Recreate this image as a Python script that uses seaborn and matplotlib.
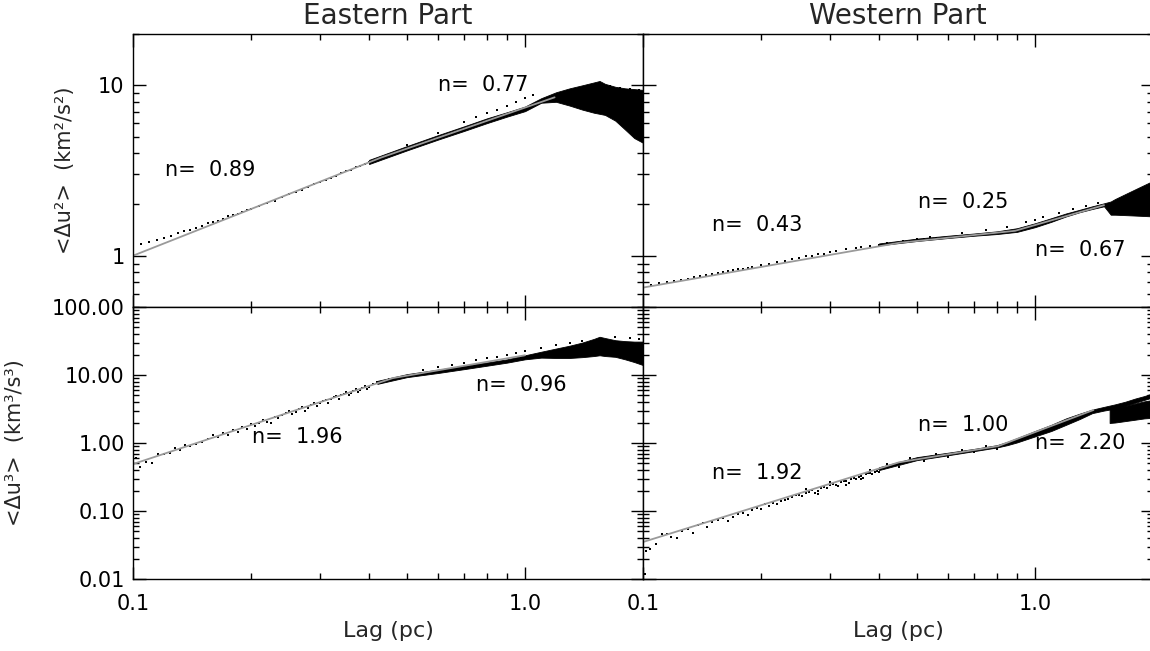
import numpy as np
import pandas as pd
import matplotlib
matplotlib.use("Agg")
import matplotlib.pyplot as plt
import seaborn as sns
from matplotlib.ticker import LogLocator, NullFormatter, FixedLocator, FixedFormatter

# ---------------- data ----------------
# Eastern part, second order <du^2>
E2_DOT_LAG = [0.100, 0.105, 0.110, 0.115, 0.120, 0.125, 0.130, 0.140, 0.150, 0.160,
              0.170, 0.180, 0.190, 0.200, 0.220, 0.240, 0.260, 0.280, 0.300, 0.330,
              0.360, 0.400,
              0.135, 0.145, 0.155, 0.165, 0.175, 0.185, 0.195, 0.210, 0.230, 0.250,
              0.270, 0.290, 0.310, 0.320, 0.340, 0.350, 0.370, 0.380, 0.390]
E2_DOT_VAL = [1.15, 1.17, 1.20, 1.24, 1.27, 1.30, 1.36, 1.42, 1.50, 1.57,
              1.65, 1.73, 1.80, 1.88, 2.04, 2.20, 2.38, 2.52, 2.70, 2.95,
              3.20, 3.55,
              1.40, 1.45, 1.55, 1.60, 1.70, 1.76, 1.85, 1.97, 2.10, 2.30,
              2.43, 2.62, 2.78, 2.86, 3.05, 3.12, 3.30, 3.38, 3.47]
E2_SCAT_LAG = [0.50, 0.60, 0.70, 0.75, 0.80, 0.85, 0.90, 0.95, 1.00, 1.05, 1.65, 1.75, 1.85, 1.95]
E2_SCAT_VAL = [4.45, 5.25, 6.10, 6.50, 6.90, 7.20, 7.60, 8.00, 8.40, 8.80, 9.90, 9.60, 9.50, 9.40]
E2_BAND_LAG = [0.40, 0.50, 0.60, 0.70, 0.80, 0.90, 1.00, 1.10, 1.20, 1.30, 1.40, 1.50, 1.55, 1.60, 1.70, 1.80, 1.90, 2.00]
E2_BAND_LO = [3.45, 4.15, 4.80, 5.40, 6.00, 6.55, 7.05, 7.90, 8.00, 7.60, 7.20, 6.90, 6.80, 6.70, 6.20, 5.50, 4.90, 4.60]
E2_BAND_HI = [3.65, 4.40, 5.10, 5.75, 6.40, 6.95, 7.50, 8.40, 9.10, 9.60, 10.0, 10.4, 10.6, 10.2, 9.80, 9.60, 9.50, 9.40]
E2_FIT_LAG = [0.10, 0.43, 1.19]
E2_FIT_VAL = [1.00, 3.77, 8.50]
E2_N = ["0.89", "0.77"]

# Western part, second order <du^2>
W2_DOT_LAG = [0.10, 0.11, 0.12, 0.13, 0.14, 0.15, 0.16, 0.17, 0.18, 0.19, 0.20, 0.22,
              0.24, 0.26, 0.28, 0.30, 0.33, 0.36, 0.40, 0.44, 0.48, 0.52, 0.56,
              0.105, 0.115, 0.125, 0.135, 0.145, 0.155, 0.165, 0.175, 0.185, 0.21,
              0.23, 0.25, 0.27, 0.29, 0.31, 0.35, 0.38, 0.42, 0.46, 0.50, 0.54]
W2_DOT_VAL = [0.66, 0.69, 0.71, 0.73, 0.76, 0.78, 0.80, 0.82, 0.84, 0.86, 0.88, 0.92,
              0.95, 0.99, 1.02, 1.05, 1.09, 1.12, 1.16, 1.19, 1.22, 1.25, 1.27,
              0.67, 0.70, 0.72, 0.75, 0.77, 0.79, 0.81, 0.83, 0.85, 0.90,
              0.93, 0.97, 1.00, 1.03, 1.06, 1.11, 1.14, 1.18, 1.22, 1.25, 1.28]
W2_SCAT_LAG = [0.65, 0.75, 0.85, 0.95, 1.00, 1.05, 1.15, 1.25, 1.35, 1.45]
W2_SCAT_VAL = [1.36, 1.41, 1.48, 1.58, 1.62, 1.68, 1.79, 1.89, 1.97, 2.05]
W2_BAND_LAG = [0.40, 0.50, 0.60, 0.70, 0.80, 0.90, 1.00, 1.10, 1.20, 1.30, 1.40, 1.50, 1.56, 1.60, 1.70, 1.80, 1.90, 2.00]
W2_BAND_LO = [1.15, 1.22, 1.27, 1.31, 1.34, 1.38, 1.47, 1.58, 1.70, 1.80, 1.88, 1.95, 1.74, 1.74, 1.73, 1.72, 1.71, 1.70]
W2_BAND_HI = [1.18, 1.26, 1.31, 1.35, 1.39, 1.45, 1.55, 1.66, 1.77, 1.86, 1.95, 2.03, 2.08, 2.15, 2.30, 2.45, 2.60, 2.75]
W2_FIT_LAG = [0.10, 0.45, 0.89, 1.50]
W2_FIT_VAL = [0.65, 1.19, 1.40, 1.98]
W2_N = ["0.43", "0.25", "0.67"]

# Eastern part, third order <du^3>
E3_DOT_LAG = [0.100, 0.102, 0.104, 0.108, 0.112, 0.116, 0.120, 0.124, 0.128, 0.132,
              0.136, 0.140, 0.145, 0.150, 0.155, 0.160, 0.165, 0.170, 0.175, 0.180,
              0.185, 0.190, 0.195, 0.200, 0.205, 0.210, 0.215, 0.220, 0.225, 0.230,
              0.240, 0.250, 0.260, 0.270, 0.280, 0.290, 0.300, 0.310, 0.320, 0.330,
              0.340, 0.350, 0.360, 0.370, 0.380, 0.390, 0.400, 0.420,
              0.235, 0.245, 0.255, 0.265, 0.275, 0.285, 0.295, 0.305, 0.315, 0.325,
              0.335, 0.345, 0.355, 0.365, 0.375, 0.385, 0.395, 0.410, 0.430, 0.450]
E3_DOT_VAL = [0.58, 0.60, 0.45, 0.52, 0.50, 0.70, 0.68, 0.72, 0.85, 0.80,
              0.95, 0.90, 0.98, 1.05, 1.15, 1.30, 1.22, 1.40, 1.32, 1.55,
              1.45, 1.70, 1.62, 1.90, 1.80, 1.98, 2.15, 2.05, 1.95, 2.45,
              2.60, 2.95, 2.90, 3.40, 3.30, 3.85, 3.90, 4.30, 4.45, 4.95,
              5.00, 5.60, 5.50, 6.20, 6.05, 6.80, 6.70, 7.90,
              2.30, 2.80, 2.70, 3.20, 3.00, 3.60, 3.50, 4.10, 3.90, 4.70,
              4.40, 5.30, 5.10, 5.90, 5.60, 6.50, 6.30, 7.40, 7.60, 8.60]
E3_SCAT_LAG = [0.55, 0.60, 0.65, 0.70, 0.75, 0.80, 0.85, 0.90, 0.95, 1.00, 1.10, 1.20, 1.30, 1.40, 1.70, 1.85, 1.95]
E3_SCAT_VAL = [12.0, 13.0, 14.2, 15.2, 16.5, 17.5, 18.5, 19.8, 21.0, 22.5, 25.0, 28.0, 30.0, 32.0, 36.0, 35.0, 34.0]
E3_BAND_LAG = [0.42, 0.50, 0.60, 0.70, 0.80, 0.90, 1.00, 1.10, 1.20, 1.30, 1.40, 1.50, 1.55, 1.60, 1.70, 1.80, 1.90, 2.00]
E3_BAND_LO = [7.4, 9.3, 10.7, 12.2, 13.7, 15.2, 17.0, 18.0, 17.8, 17.8, 18.3, 19.0, 19.5, 19.0, 18.5, 17.0, 15.5, 14.0]
E3_BAND_HI = [8.2, 10.3, 12.0, 13.6, 15.3, 17.0, 19.5, 22.0, 24.5, 27.0, 30.0, 34.0, 36.5, 35.0, 32.5, 31.5, 31.0, 31.0]
E3_FIT_LAG = [0.10, 0.46, 1.00]
E3_FIT_VAL = [0.49, 9.00, 19.5]
E3_N = ["1.96", "0.96"]

# Western part, third order <du^3>
W3_DOT_LAG = [0.101, 0.102, 0.104, 0.108, 0.112, 0.115, 0.118, 0.122, 0.126, 0.130,
              0.134, 0.138, 0.142, 0.146, 0.150, 0.155, 0.160, 0.165, 0.170, 0.175,
              0.180, 0.185, 0.190, 0.195, 0.200, 0.205, 0.210, 0.215, 0.220, 0.230,
              0.240, 0.250, 0.260, 0.270, 0.280, 0.290, 0.300, 0.310, 0.320, 0.330,
              0.340, 0.350, 0.360, 0.370, 0.380, 0.390, 0.400,
              0.225, 0.235, 0.245, 0.255, 0.265, 0.275, 0.285, 0.295, 0.305, 0.315,
              0.325, 0.335, 0.345, 0.355, 0.365, 0.375, 0.385, 0.395]
W3_DOT_VAL = [0.012, 0.026, 0.028, 0.033, 0.046, 0.046, 0.041, 0.040, 0.050, 0.055,
              0.047, 0.062, 0.066, 0.058, 0.070, 0.073, 0.080, 0.072, 0.082, 0.090,
              0.094, 0.086, 0.102, 0.110, 0.106, 0.125, 0.118, 0.132, 0.128, 0.145,
              0.158, 0.170, 0.182, 0.205, 0.200, 0.225, 0.240, 0.245, 0.270, 0.275,
              0.300, 0.295, 0.330, 0.345, 0.360, 0.380, 0.410,
              0.140, 0.150, 0.170, 0.165, 0.190, 0.185, 0.220, 0.215, 0.250, 0.235,
              0.280, 0.260, 0.310, 0.320, 0.310, 0.360, 0.350, 0.390]
W3_SCAT_LAG = [0.26, 0.28, 0.30, 0.33, 0.36, 0.38, 0.40, 0.42, 0.45, 0.48, 0.52, 0.56, 0.60, 0.65, 0.70, 0.75, 0.80]
W3_SCAT_VAL = [0.21, 0.175, 0.27, 0.24, 0.30, 0.40, 0.37, 0.49, 0.45, 0.61, 0.55, 0.70, 0.63, 0.80, 0.73, 0.90, 0.83]
W3_BAND_LAG = [0.40, 0.50, 0.60, 0.70, 0.80, 0.85, 0.90, 1.00, 1.10, 1.20, 1.30, 1.40, 1.50, 1.60, 1.70, 1.80, 1.90, 2.00]
W3_BAND_LO = [0.40, 0.56, 0.66, 0.76, 0.86, 0.93, 1.02, 1.25, 1.50, 1.85, 2.25, 2.75, 3.00, 3.20, 3.50, 3.90, 4.30, 4.70]
W3_BAND_HI = [0.44, 0.62, 0.72, 0.82, 0.93, 1.04, 1.18, 1.50, 1.85, 2.30, 2.70, 3.10, 3.40, 3.70, 4.05, 4.50, 4.90, 5.40]
W3_FAN_LAG = [1.55, 1.60, 1.70, 1.80, 1.90, 2.00]
W3_FAN_LO = [1.97, 2.00, 2.10, 2.20, 2.30, 2.35]
W3_FAN_HI = [3.20, 3.30, 3.50, 3.80, 4.10, 4.30]
W3_FIT_LAG = [0.10, 0.45, 0.805, 1.41]
W3_FIT_VAL = [0.035, 0.52, 0.90, 3.06]
W3_N = ["1.92", "1.00", "2.20"]

TITLES = ["Eastern Part", "Western Part"]
X_TICKS = [0.1, 1.0]
X_TICKLABELS = ["0.1", "1.0"]
Y2_TICKS = [1, 10]
Y2_TICKLABELS = ["1", "10"]
Y3_TICKS = [0.01, 0.1, 1, 10, 100]
Y3_TICKLABELS = ["0.01", "0.10", "1.00", "10.00", "100.00"]

# ---------------- figure ----------------
sns.set_theme(style="white")
plt.rcParams["font.family"] = ["DejaVu Sans"]
plt.rcParams["axes.linewidth"] = 1.0

W, H = 1150, 651
fig = plt.figure(figsize=(W / 100, H / 100), dpi=100)

def frac(x0, y0, x1, y1):
    return [x0 / W, 1 - y1 / H, (x1 - x0) / W, (y1 - y0) / H]

ax_tl = fig.add_axes(frac(133, 34, 643, 307))
ax_tr = fig.add_axes(frac(643, 34, 1153, 307))
ax_bl = fig.add_axes(frac(133, 307, 643, 579))
ax_br = fig.add_axes(frac(643, 307, 1153, 579))

GRAY = "#9a9a9a"

def draw(ax, dl, dv, sl, sv, bl, blo, bhi, fl, fv):
    ax.set_xscale("log")
    ax.set_yscale("log")
    ax.fill_between(bl, blo, bhi, color="black", linewidth=0.6, edgecolor="black")
    d = pd.DataFrame({"lag": dl + sl, "val": dv + sv})
    sns.scatterplot(data=d, x="lag", y="val", ax=ax, s=2.5, color="black",
                    marker="s", linewidth=0, legend=False)
    f = pd.DataFrame({"lag": fl, "val": fv})
    sns.lineplot(data=f, x="lag", y="val", ax=ax, color=GRAY, linewidth=1.3,
                 sort=False, estimator=None)

draw(ax_tl, E2_DOT_LAG, E2_DOT_VAL, E2_SCAT_LAG, E2_SCAT_VAL,
     E2_BAND_LAG, E2_BAND_LO, E2_BAND_HI, E2_FIT_LAG, E2_FIT_VAL)
draw(ax_tr, W2_DOT_LAG, W2_DOT_VAL, W2_SCAT_LAG, W2_SCAT_VAL,
     W2_BAND_LAG, W2_BAND_LO, W2_BAND_HI, W2_FIT_LAG, W2_FIT_VAL)
draw(ax_bl, E3_DOT_LAG, E3_DOT_VAL, E3_SCAT_LAG, E3_SCAT_VAL,
     E3_BAND_LAG, E3_BAND_LO, E3_BAND_HI, E3_FIT_LAG, E3_FIT_VAL)
draw(ax_br, W3_DOT_LAG, W3_DOT_VAL, W3_SCAT_LAG, W3_SCAT_VAL,
     W3_BAND_LAG, W3_BAND_LO, W3_BAND_HI, W3_FIT_LAG, W3_FIT_VAL)
ax_br.fill_between(W3_FAN_LAG, W3_FAN_LO, W3_FAN_HI, color="black", linewidth=0.6, edgecolor="black")

FS = 15
for ax, top, left in [(ax_tl, True, True), (ax_tr, True, False),
                      (ax_bl, False, True), (ax_br, False, False)]:
    ax.set_xlim(0.1, 2.0)
    if top:
        ax.set_ylim(0.5, 20)
        ax.yaxis.set_major_locator(FixedLocator(Y2_TICKS))
        ax.yaxis.set_major_formatter(FixedFormatter(Y2_TICKLABELS))
    else:
        ax.set_ylim(0.01, 100)
        ax.yaxis.set_major_locator(FixedLocator(Y3_TICKS))
        ax.yaxis.set_major_formatter(FixedFormatter(Y3_TICKLABELS))
    ax.yaxis.set_minor_locator(LogLocator(base=10, subs=np.arange(2, 10), numticks=20))
    ax.yaxis.set_minor_formatter(NullFormatter())
    ax.xaxis.set_major_locator(FixedLocator(X_TICKS))
    ax.xaxis.set_major_formatter(FixedFormatter(X_TICKLABELS))
    ax.xaxis.set_minor_locator(FixedLocator([0.2, 0.3, 0.4, 0.5, 0.6, 0.7, 0.8, 0.9]))
    ax.xaxis.set_minor_formatter(NullFormatter())
    ax.tick_params(which="both", direction="in", top=True, right=True,
                   bottom=True, left=True, colors="black", width=1.0)
    ax.tick_params(which="major", length=9)
    ax.tick_params(which="minor", length=4.5)
    ax.tick_params(axis="x", which="major", pad=11, labelsize=FS)
    ax.tick_params(axis="y", which="major", pad=6, labelsize=FS)
    if top:
        ax.tick_params(axis="x", labelbottom=False)
    if not left:
        ax.tick_params(axis="y", labelleft=False)
    for sp in ax.spines.values():
        sp.set_color("black")
        sp.set_linewidth(1.0)
    ax.set_xlabel("")
    ax.set_ylabel("")

ax_tl.set_title(TITLES[0], fontsize=20, pad=7)
ax_tr.set_title(TITLES[1], fontsize=20, pad=7)

ax_bl.set_xlabel("Lag (pc)", fontsize=16, labelpad=5)
ax_br.set_xlabel("Lag (pc)", fontsize=16, labelpad=5)
ax_tl.set_ylabel("<Δu²>  (km²/s²)", fontsize=15)
ax_tl.yaxis.set_label_coords(-0.114, 0.5)
ax_bl.set_ylabel("<Δu³>  (km³/s³)", fontsize=15)
ax_bl.yaxis.set_label_coords(-0.212, 0.5)

def nlab(ax, x, y, s):
    ax.text(x, y, "n=  " + s, fontsize=FS, ha="left", va="center", color="black")

nlab(ax_tl, 0.121, 3.2, E2_N[0])
nlab(ax_tl, 0.60, 10.0, E2_N[1])
nlab(ax_tr, 0.150, 1.52, W2_N[0])
nlab(ax_tr, 0.503, 2.08, W2_N[1])
nlab(ax_tr, 1.00, 1.08, W2_N[2])
nlab(ax_bl, 0.201, 1.22, E3_N[0])
nlab(ax_bl, 0.75, 7.1, E3_N[1])
nlab(ax_br, 0.150, 0.36, W3_N[0])
nlab(ax_br, 0.503, 1.84, W3_N[1])
nlab(ax_br, 1.00, 1.0, W3_N[2])

fig.savefig("out.png", dpi=100)
